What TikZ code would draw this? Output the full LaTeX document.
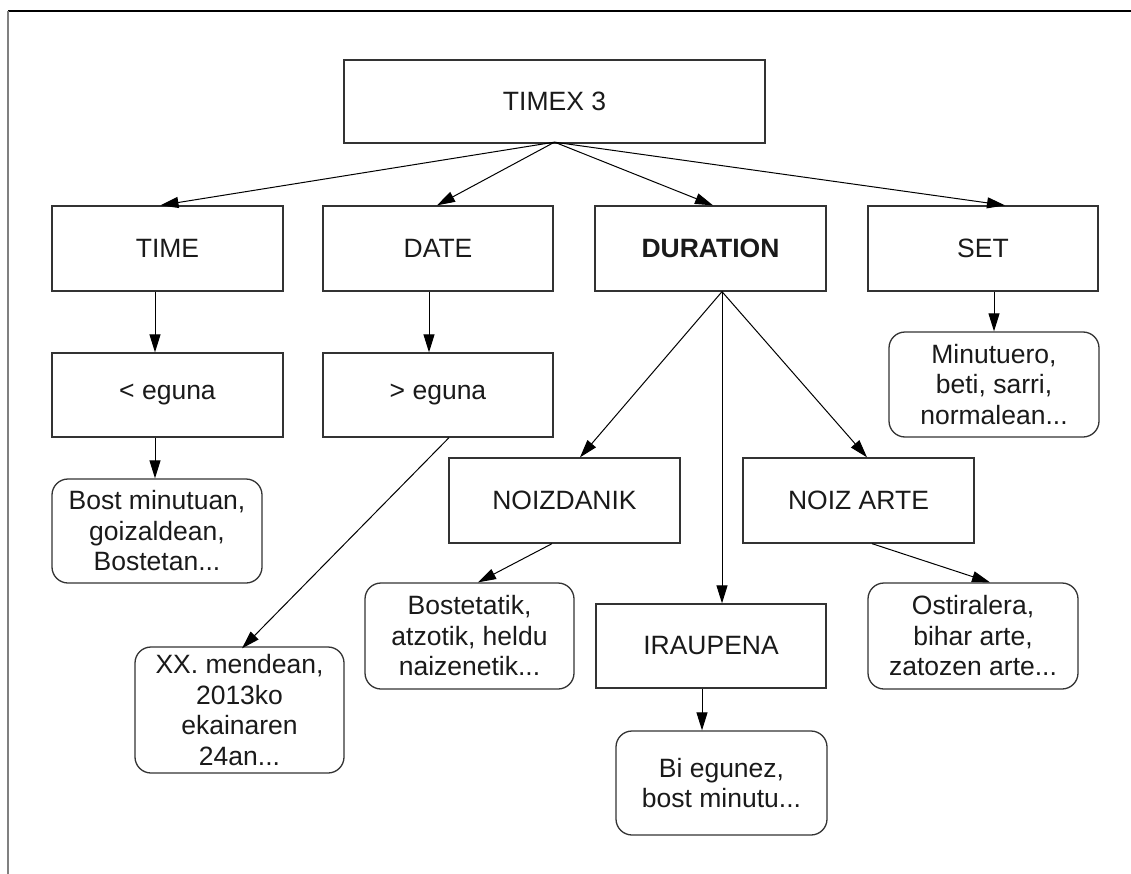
\documentclass[tikz,border=0pt]{standalone}
\usepackage{fontspec}
\setmainfont{Liberation Sans}
\usetikzlibrary{arrows.meta}
\definecolor{edge}{HTML}{333333}
\definecolor{txt}{HTML}{1A1A1A}
\begin{document}
\begin{tikzpicture}[x=1pt,y=-1pt,
  box/.style={draw=edge,line width=1.3pt,rectangle,inner sep=0pt,align=center,text=txt,
    font=\fontsize{26.5}{30.5}\selectfont},
  rbox/.style={box,rounded corners=16pt},
  conn/.style={draw=black,line width=1pt,-{Triangle[length=18pt,width=11pt]}}]
\useasboundingbox (0,0) rectangle (1131,874);
\fill[white] (0,0) rectangle (1131,874);
% frame
\draw[black,line width=1.5pt] (8,11) -- (1131,11);
\draw[gray,line width=2pt] (8,11) -- (8,874);
% nodes
\node[box,minimum width=421pt,minimum height=83pt] (timex) at (554.5,101.5) {TIMEX 3};
\node[box,minimum width=231pt,minimum height=85pt] (time) at (167.5,248.5) {TIME};
\node[box,minimum width=230pt,minimum height=85pt] (date) at (438,248.5) {DATE};
\node[box,minimum width=231pt,minimum height=85pt] (dur) at (710.5,248.5) {\bfseries DURATION};
\node[box,minimum width=230pt,minimum height=85pt] (set) at (983,248.5) {SET};
\node[box,minimum width=231pt,minimum height=84pt] (lt) at (167.5,395) {< eguna};
\node[box,minimum width=230pt,minimum height=84pt] (gt) at (438,395) {> eguna};
\node[rbox,minimum width=210pt,minimum height=104pt] (bost) at (157,531) {Bost minutuan,\\goizaldean,\\Bostetan...};
\node[rbox,minimum width=209pt,minimum height=126pt] (xx) at (239.5,710) {XX. mendean,\\2013ko\\ekainaren\\24an...};
\node[box,minimum width=231pt,minimum height=85pt] (noizd) at (564.5,500.5) {NOIZDANIK};
\node[box,minimum width=231pt,minimum height=85pt] (noizarte) at (858.5,500.5) {NOIZ ARTE};
\node[rbox,minimum width=209pt,minimum height=106pt] (bostet) at (469.5,636) {Bostetatik,\\atzotik, heldu\\naizenetik...};
\node[box,minimum width=230pt,minimum height=84pt] (iraup) at (711,646) {IRAUPENA};
\node[rbox,minimum width=210pt,minimum height=106pt] (ostir) at (973,636) {Ostiralera,\\bihar arte,\\zatozen arte...};
\node[rbox,minimum width=210pt,minimum height=105pt] (minut) at (994,384.5) {Minutuero,\\beti, sarri,\\normalean...};
\node[rbox,minimum width=211pt,minimum height=104pt] (bieg) at (721.5,783) {Bi egunez,\\bost minutu...};
% connectors
\draw[conn] ([yshift=1.5pt]timex.south) -- ([xshift=-7pt]time.north);
\draw[conn] ([yshift=1.5pt]timex.south) -- ([xshift=-1pt]date.north);
\draw[conn] ([yshift=1.5pt]timex.south) -- ([xshift=2.5pt]dur.north);
\draw[conn] ([yshift=1.5pt]timex.south) -- ([xshift=22pt]set.north);
\draw[conn] ([xshift=-12.5pt]time.south) -- ([xshift=-12.5pt]lt.north);
\draw[conn] ([xshift=-9pt]date.south) -- ([xshift=-9pt]gt.north);
\draw[conn] ([xshift=-12.5pt]lt.south) -- ([xshift=-2pt]bost.north);
\draw[conn] ([xshift=11pt]gt.south) -- ([xshift=2.5pt,yshift=-2pt]xx.north);
\draw[conn] ([xshift=11.5pt]dur.south) -- ([xshift=15.5pt]noizd.north);
\draw[conn] ([xshift=11.5pt]dur.south) -- ([xshift=11pt]iraup.north);
\draw[conn] ([xshift=11.5pt]dur.south) -- ([xshift=8.5pt]noizarte.north);
\draw[conn] ([xshift=-12.5pt]noizd.south) -- ([xshift=8.5pt]bostet.north);
\draw[conn] ([xshift=13.5pt]noizarte.south) -- ([xshift=17pt]ostir.north);
\draw[conn] ([xshift=11pt]set.south) -- (minut.north);
\draw[conn] ([xshift=-9pt]iraup.south) -- ([xshift=-19.5pt]bieg.north);
\end{tikzpicture}
\end{document}
